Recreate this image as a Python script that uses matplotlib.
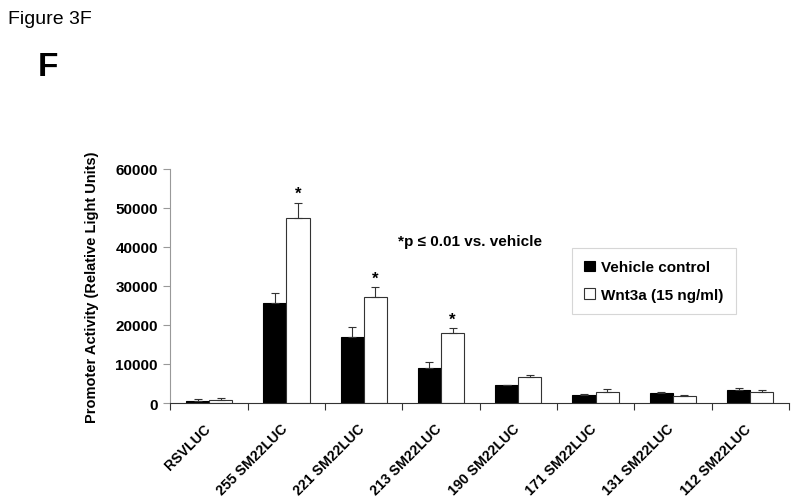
import matplotlib
matplotlib.use("Agg")
import matplotlib.pyplot as plt
import matplotlib.transforms as mtransforms
import numpy as np
from matplotlib.patches import Rectangle

categories = ["RSVLUC", "255 SM22LUC", "221 SM22LUC", "213 SM22LUC",
              "190 SM22LUC", "171 SM22LUC", "131 SM22LUC", "112 SM22LUC"]
vehicle = [600, 25600, 16800, 9000, 4500, 2100, 2500, 3300]
vehicle_err = [300, 2600, 2600, 1400, 200, 200, 300, 600]
wnt3a = [800, 47300, 27200, 18000, 6600, 2900, 1800, 2900]
wnt3a_err = [500, 3900, 2400, 1100, 500, 600, 150, 400]
significant = [False, True, True, True, False, False, False, False]
yticks = [0, 10000, 20000, 30000, 40000, 50000, 60000]

plt.rcParams['font.family'] = ['Liberation Sans', 'DejaVu Sans']

fig = plt.figure(figsize=(8, 5.02), dpi=100)
ax = fig.add_axes([0.2131, 0.1952, 0.986 - 0.2131, 0.4671])

x = np.arange(len(categories))
w = 0.3
ax.bar(x - w / 2, vehicle, w, color='black', edgecolor='black', linewidth=0.8, zorder=2)
ax.bar(x + w / 2, wnt3a, w, color='white', edgecolor='#333333', linewidth=0.8, zorder=2)
ax.errorbar(x - w / 2, vehicle, yerr=[np.zeros(len(vehicle)), vehicle_err], fmt='none',
            ecolor='#333333', elinewidth=0.8, capsize=3, capthick=0.8, zorder=3)
ax.errorbar(x + w / 2, wnt3a, yerr=[np.zeros(len(wnt3a)), wnt3a_err], fmt='none',
            ecolor='#333333', elinewidth=0.8, capsize=3, capthick=0.8, zorder=3)

for i, s in enumerate(significant):
    if s:
        ax.text(x[i] + w / 2, wnt3a[i] + wnt3a_err[i] + 500, "*", ha='center', va='bottom',
                fontsize=12, fontweight='bold')

ax.set_xlim(-0.5, len(categories) - 0.5)
ax.set_ylim(0, 60000)
ax.set_yticks(yticks)
ax.set_yticklabels([str(t) for t in yticks], fontsize=11, fontweight='bold')
ax.set_xticks(np.arange(len(categories) + 1) - 0.5)
ax.set_xticklabels([])
ax.set_xticks(x, minor=True)
ax.set_xticklabels(categories, minor=True, rotation=45, ha='right', rotation_mode='anchor',
                   fontsize=10.2, fontweight='bold')
ax.tick_params(axis='x', which='minor', length=0, pad=13)
ax.tick_params(axis='x', which='major', length=5, width=0.8, color='#333333', direction='out')
ax.tick_params(axis='y', length=5, width=0.8, color='#999999', pad=4)
shift = mtransforms.ScaledTranslation(-6 / 100, 0, fig.dpi_scale_trans)
for lbl in ax.get_xticklabels(minor=True):
    lbl.set_transform(lbl.get_transform() + shift)

ax.spines['top'].set_visible(False)
ax.spines['right'].set_visible(False)
ax.spines['left'].set_color('#999999')
ax.spines['left'].set_linewidth(0.8)
ax.spines['bottom'].set_color('#333333')
ax.spines['bottom'].set_linewidth(0.8)

ax.set_ylabel("Promoter Activity (Relative Light Units)", fontsize=10.5, fontweight='bold', labelpad=12)

fig.text(398 / 800, 1 - 242 / 502, "*p ≤ 0.01 vs. vehicle", fontsize=11, fontweight='bold',
         ha='left', va='center')

handles = [Rectangle((0, 0), 1, 1, facecolor='black', edgecolor='black', linewidth=0.8),
           Rectangle((0, 0), 1, 1, facecolor='white', edgecolor='#333333', linewidth=0.8)]
leg = fig.legend(handles, ["Vehicle control", "Wnt3a (15 ng/ml)"],
                 loc='upper left', bbox_to_anchor=(572 / 800, 1 - 249 / 502),
                 prop={'size': 11, 'weight': 'bold'}, frameon=True, fancybox=False,
                 edgecolor='#cccccc', handlelength=0.7, handleheight=0.7, handletextpad=0.4,
                 borderpad=0.8, labelspacing=0.9, borderaxespad=0)
leg.get_frame().set_linewidth(0.8)

fig.text(8 / 800, 1 - 19 / 502, "Figure 3F", fontsize=14, ha='left', va='center')
fig.text(38 / 800, 1 - 67 / 502, "F", fontsize=24, fontweight='bold', ha='left', va='center')

fig.savefig("out.png", dpi=100)
